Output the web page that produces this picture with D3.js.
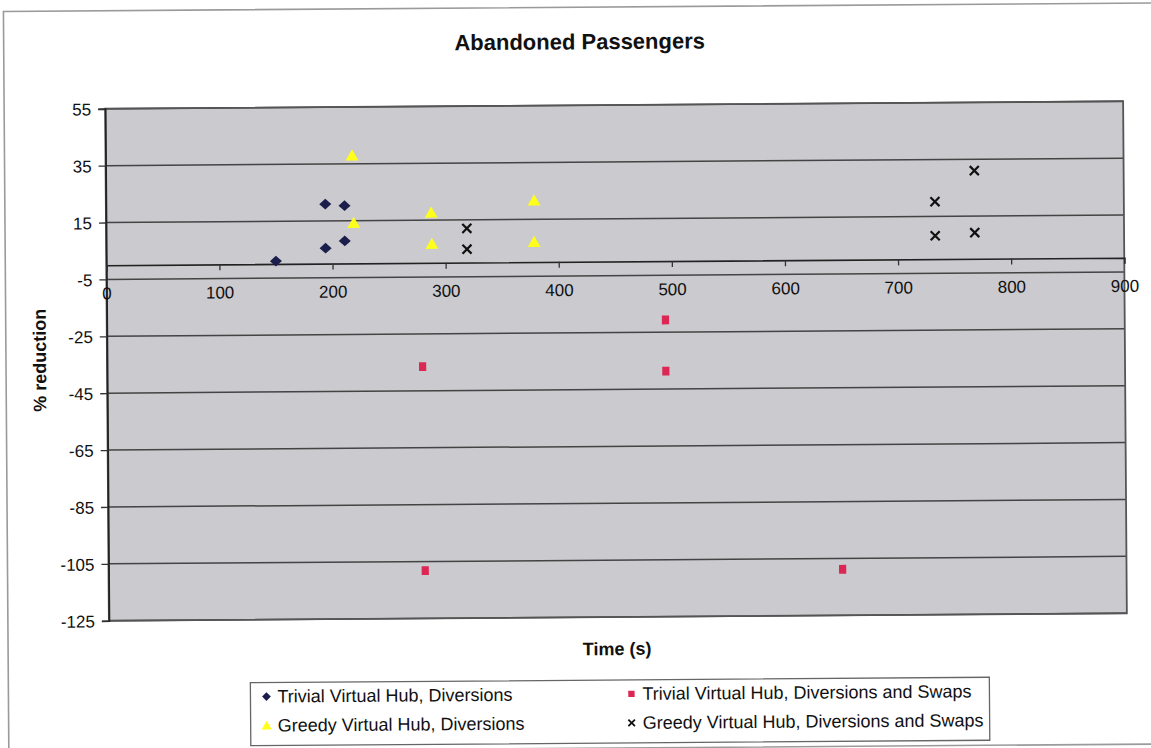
<!DOCTYPE html>
<html>
<head>
<meta charset="utf-8">
<script src="https://cdn.jsdelivr.net/npm/d3@7"></script>
<style>
  html, body { margin: 0; padding: 0; background: #ffffff; }
  svg { display: block; }
</style>
</head>
<body>
<svg id="chart" width="1151" height="748"></svg>
<script>
// ---- data ----
const chartTitle = "Abandoned Passengers";
const xAxisTitle = "Time (s)";
const yAxisTitle = "% reduction";
const xTicks = [0, 100, 200, 300, 400, 500, 600, 700, 800, 900];
const yTicks = [55, 35, 15, -5, -25, -45, -65, -85, -105, -125];

const trivialDivX = [150, 194, 211, 194, 211];
const trivialDivY = [1, 20.9, 20.3, 5.4, 7.9];

const greedyDivX = [218, 219, 287.5, 288, 378.6, 378.4];
const greedyDivY = [37.5, 13.8, 17.2, 6.2, 21.2, 6.6];

const trivialSwapX = [494, 279, 494, 280, 649];
const trivialSwapY = [-20.7, -36.5, -38.7, -108.2, -108.8];

const greedySwapX = [319, 319, 733, 733, 768, 768];
const greedySwapY = [12.0, 4.7, 20.2, 8.2, 31.0, 9.2];

const seriesNames = [
  "Trivial Virtual Hub, Diversions",
  "Trivial Virtual Hub, Diversions and Swaps",
  "Greedy Virtual Hub, Diversions",
  "Greedy Virtual Hub, Diversions and Swaps"
];

// ---- layout ----
const svg = d3.select("#chart");
const plot = { left: 107, right: 1125, top: 105, bottom: 617 };
const fontFam = "Arial, 'Liberation Sans', Helvetica, sans-serif";
const fmt = d => String(d);

const root = svg.append("g").attr("transform", "rotate(-0.42, 616, 361)");

// chart area frame
root.append("rect")
  .attr("x", 6).attr("y", 7).attr("width", 1170).attr("height", 741)
  .attr("fill", "#ffffff").attr("stroke", "#9a9a9a").attr("stroke-width", 1.6);

const x = d3.scaleLinear().domain([0, 900]).range([plot.left, plot.right]);
const y = d3.scaleLinear().domain([-125, 55]).range([plot.bottom, plot.top]);

// plot background
root.append("rect")
  .attr("x", plot.left).attr("y", plot.top)
  .attr("width", plot.right - plot.left).attr("height", plot.bottom - plot.top)
  .attr("fill", "#cacacf");

// gridlines
root.append("g").selectAll("line").data(yTicks).join("line")
  .attr("x1", plot.left).attr("x2", plot.right)
  .attr("y1", d => y(d)).attr("y2", d => y(d))
  .attr("stroke", "#444444").attr("stroke-width", 1.5);

// plot border
root.append("rect")
  .attr("x", plot.left).attr("y", plot.top)
  .attr("width", plot.right - plot.left).attr("height", plot.bottom - plot.top)
  .attr("fill", "none").attr("stroke", "#555555").attr("stroke-width", 1.8);

// y axis
const yAxis = d3.axisLeft(y).tickValues(yTicks).tickSize(7).tickPadding(7).tickFormat(fmt);
const yg = root.append("g").attr("transform", `translate(${plot.left},0)`).call(yAxis);
yg.select(".domain").attr("stroke", "#222").attr("stroke-width", 1.8);
yg.selectAll(".tick line").attr("stroke", "#333").attr("stroke-width", 1.3);
yg.selectAll(".tick text").attr("font-family", fontFam).attr("font-size", 17)
  .attr("fill", "#111").attr("dy", "0.36em");

// x axis at y = 0
const xAxis = d3.axisBottom(x).tickValues(xTicks).tickSize(6).tickPadding(16).tickFormat(fmt);
const xg = root.append("g").attr("transform", `translate(0,${y(0)})`).call(xAxis);
xg.select(".domain").attr("stroke", "#222").attr("stroke-width", 1.6);
xg.selectAll(".tick line").attr("stroke", "#333").attr("stroke-width", 1.3);
xg.selectAll(".tick text").attr("font-family", fontFam).attr("font-size", 17)
  .attr("fill", "#111");

// ---- markers ----
function pts(xs, ys) { return xs.map((v, i) => [v, ys[i]]); }
const diamondPath = d3.symbol().type(d3.symbolSquare).size(72)();

const marks = root.append("g");
marks.selectAll(".s1").data(pts(trivialDivX, trivialDivY)).join("path")
  .attr("transform", d => `translate(${x(d[0])},${y(d[1])}) scale(1,0.9) rotate(45)`)
  .attr("d", diamondPath)
  .attr("fill", "#1b1e4b");
marks.selectAll(".s2").data(pts(trivialSwapX, trivialSwapY)).join("path")
  .attr("transform", d => `translate(${x(d[0])},${y(d[1])}) scale(0.9,1.1)`)
  .attr("d", d3.symbol().type(d3.symbolSquare).size(64)())
  .attr("fill", "#dc2754");
marks.selectAll(".s3").data(pts(greedyDivX, greedyDivY)).join("path")
  .attr("transform", d => `translate(${x(d[0])},${y(d[1])})`)
  .attr("d", d3.symbol().type(d3.symbolTriangle).size(72)())
  .attr("fill", "#ffff1a");
marks.selectAll(".s4").data(pts(greedySwapX, greedySwapY)).join("path")
  .attr("transform", d => `translate(${x(d[0])},${y(d[1])})`)
  .attr("d", d3.symbol().type(d3.symbolX).size(55)())
  .attr("fill", "none").attr("stroke", "#111").attr("stroke-width", 2.2);

// ---- titles ----
root.append("text").attr("x", 582).attr("y", 49)
  .attr("text-anchor", "middle").attr("font-family", fontFam)
  .attr("font-weight", "bold").attr("font-size", 22).attr("fill", "#111")
  .text(chartTitle);

root.append("text").attr("x", 615).attr("y", 655)
  .attr("text-anchor", "middle").attr("font-family", fontFam)
  .attr("font-weight", "bold").attr("font-size", 18).attr("fill", "#111")
  .text(xAxisTitle);

root.append("text")
  .attr("transform", `translate(46,356) rotate(-90)`)
  .attr("text-anchor", "middle").attr("font-family", fontFam)
  .attr("font-weight", "bold").attr("font-size", 18).attr("fill", "#111")
  .text(yAxisTitle);

// ---- legend ----
const leg = root.append("g");
leg.append("rect").attr("x", 248).attr("y", 680).attr("width", 739).attr("height", 63)
  .attr("fill", "#ffffff").attr("stroke", "#666").attr("stroke-width", 1.3);

const legItems = [
  { name: seriesNames[0], cx: 264, cy: 694, kind: "diamond" },
  { name: seriesNames[1], cx: 629, cy: 694, kind: "square" },
  { name: seriesNames[2], cx: 264, cy: 723, kind: "triangle" },
  { name: seriesNames[3], cx: 629, cy: 723, kind: "cross" }
];
legItems.forEach(it => {
  const g = leg.append("g").attr("transform", `translate(${it.cx},${it.cy})`);
  if (it.kind === "diamond") {
    g.append("path").attr("d", d3.symbol().type(d3.symbolSquare).size(38)())
      .attr("transform", "rotate(45)").attr("fill", "#1b1e4b");
  } else if (it.kind === "square") {
    g.append("path").attr("d", d3.symbol().type(d3.symbolSquare).size(40)()).attr("fill", "#dc2754");
  } else if (it.kind === "triangle") {
    g.append("path").attr("d", d3.symbol().type(d3.symbolTriangle).size(45)()).attr("fill", "#ffff1a")
      .attr("transform", "translate(0,1)");
  } else {
    g.append("path").attr("d", d3.symbol().type(d3.symbolX).size(30)())
      .attr("fill", "none").attr("stroke", "#111").attr("stroke-width", 1.8);
  }
  leg.append("text").attr("x", it.cx + 11).attr("y", it.cy + 6)
    .attr("font-family", fontFam).attr("font-size", 18).attr("fill", "#111")
    .text(it.name);
});
</script>
</body>
</html>
